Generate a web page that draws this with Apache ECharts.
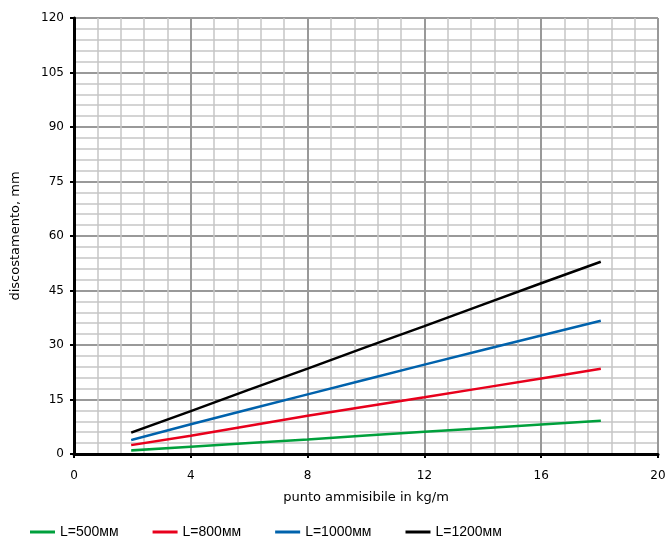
<!DOCTYPE html>
<html>
<head>
<meta charset="utf-8">
<script src="https://cdn.jsdelivr.net/npm/echarts@6/dist/echarts.min.js"></script>
<style>
  html, body { margin: 0; padding: 0; background: #fff; }
  #chart { width: 670px; height: 545px; }
</style>
</head>
<body>
<div id="chart"></div>
<script>
// punto ammisibile (kg/m)
var carico = [2, 4, 6, 8, 10, 12, 14, 16, 18];
// discostamento, mm
var l500 = [1.0, 2.0, 3.0, 4.0, 5.1, 6.1, 7.1, 8.1, 9.1];
var l800 = [2.5, 5.0, 7.8, 10.5, 13.1, 15.6, 18.2, 20.8, 23.4];
var l1000 = [3.9, 8.2, 12.3, 16.4, 20.5, 24.6, 28.6, 32.6, 36.6];
var l1200 = [6.0, 11.8, 17.7, 23.5, 29.4, 35.2, 41.1, 47.0, 52.8];
var nomi = ['L=500мм', 'L=800мм', 'L=1000мм', 'L=1200мм'];
var colori = ['#00a03c', '#e8001c', '#0062ac', '#000000'];

function coppie(vals) {
  return carico.map(function (x, i) { return [x, vals[i]]; });
}

var font = 'DejaVu Sans, Verdana, sans-serif';
var chart = echarts.init(document.getElementById('chart'));

chart.setOption({
  animation: false,
  color: colori,
  grid: { left: 74, right: 12, top: 18, bottom: 91 },
  legend: {
    bottom: 1,
    left: 25,
    icon: 'rect',
    itemWidth: 25,
    itemHeight: 3,
    itemGap: 34,
    textStyle: { fontFamily: 'Liberation Sans, Arial, sans-serif', fontSize: 14, color: '#000' },
    data: nomi
  },
  xAxis: {
    type: 'value',
    min: 0,
    max: 20,
    interval: 4,
    name: 'punto ammisibile in kg/m',
    nameLocation: 'middle',
    nameGap: 37,
    nameTextStyle: { fontFamily: font, fontSize: 13, color: '#000' },
    axisLine: { lineStyle: { color: '#000', width: 3 } },
    axisTick: { show: true, inside: false, length: 4, lineStyle: { color: '#000', width: 2 } },
    axisLabel: { fontFamily: font, fontSize: 12, color: '#000', margin: 16 },
    splitLine: { show: true, lineStyle: { color: '#999', width: 2 } },
    minorTick: { show: false, splitNumber: 5 },
    minorSplitLine: { show: true, lineStyle: { color: '#c6c6c6', width: 1.5 } }
  },
  yAxis: {
    type: 'value',
    min: 0,
    max: 120,
    interval: 15,
    name: 'discostamento, mm',
    nameLocation: 'middle',
    nameGap: 52,
    nameTextStyle: { fontFamily: font, fontSize: 13, color: '#000' },
    axisLine: { show: true, lineStyle: { color: '#000', width: 3 } },
    axisTick: { show: true, inside: false, length: 4, lineStyle: { color: '#000', width: 2 } },
    axisLabel: { fontFamily: font, fontSize: 12, color: '#000', margin: 10 },
    splitLine: { show: true, lineStyle: { color: '#999', width: 2 } },
    minorTick: { show: false, splitNumber: 5 },
    minorSplitLine: { show: true, lineStyle: { color: '#c6c6c6', width: 1.5 } }
  },
  series: [
    { name: nomi[0], type: 'line', data: coppie(l500), showSymbol: false, lineStyle: { width: 2.5, cap: 'square' } },
    { name: nomi[1], type: 'line', data: coppie(l800), showSymbol: false, lineStyle: { width: 2.5, cap: 'square' } },
    { name: nomi[2], type: 'line', data: coppie(l1000), showSymbol: false, lineStyle: { width: 2.5, cap: 'square' } },
    { name: nomi[3], type: 'line', data: coppie(l1200), showSymbol: false, lineStyle: { width: 2.5, cap: 'square' } }
  ]
});
</script>
</body>
</html>
